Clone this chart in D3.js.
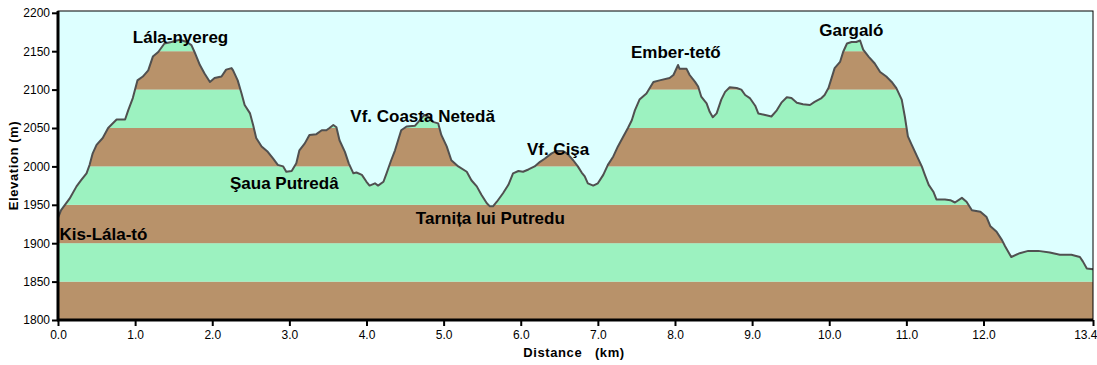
<!DOCTYPE html>
<html>
<head>
<meta charset="utf-8">
<title>Elevation profile</title>
<script src="https://cdn.jsdelivr.net/npm/d3@7"></script>
<style>
    body { margin: 0; background: #fff; }
    .tick text { font-family: Arial, "Liberation Sans", sans-serif; font-size: 12px; fill: #000; }
    .peak { font-family: Arial, "Liberation Sans", sans-serif; font-size: 17px; font-weight: bold; fill: #000; }
    .axis-title { font-family: Arial, "Liberation Sans", sans-serif; font-size: 13px; font-weight: bold; fill: #000; letter-spacing: 0.6px; }
</style>
</head>
<body>
<div id="chart"></div>
<script>

// distance along the route (km) and elevation (m)
var distKm = [0.00,0.04,0.15,0.24,0.30,0.37,0.41,0.45,0.50,0.58,0.65,0.76,0.87,0.91,0.97,1.03,1.10,1.17,1.23,1.30,
    1.38,1.47,1.58,1.67,1.73,1.77,1.84,1.90,1.97,2.03,2.12,2.18,2.25,2.27,2.33,2.38,2.42,2.49,2.53,2.57,
    2.64,2.72,2.79,2.85,2.92,2.96,3.03,3.09,3.13,3.20,3.26,3.35,3.42,3.48,3.52,3.57,3.61,3.65,3.72,3.77,
    3.83,3.87,3.94,4.00,4.04,4.11,4.15,4.22,4.26,4.32,4.37,4.41,4.45,4.52,4.63,4.69,4.75,4.80,4.86,4.93,
    4.97,5.04,5.10,5.19,5.30,5.36,5.43,5.49,5.56,5.60,5.64,5.69,5.77,5.84,5.90,5.97,6.03,6.10,6.18,6.25,
    6.31,6.40,6.46,6.55,6.61,6.68,6.74,6.79,6.83,6.87,6.94,7.00,7.07,7.13,7.20,7.26,7.33,7.39,7.44,7.48,
    7.54,7.63,7.72,7.80,7.93,7.98,8.04,8.06,8.15,8.19,8.26,8.30,8.34,8.41,8.45,8.49,8.54,8.60,8.65,8.71,
    8.80,8.86,8.91,8.97,9.04,9.08,9.17,9.25,9.32,9.38,9.45,9.51,9.58,9.66,9.75,9.81,9.90,9.94,9.99,10.03,
    10.07,10.14,10.18,10.23,10.29,10.35,10.40,10.44,10.51,10.59,10.66,10.74,10.81,10.87,10.94,10.98,11.02,11.07,11.13,11.20,
    11.24,11.29,11.35,11.39,11.50,11.57,11.63,11.72,11.78,11.85,11.96,12.04,12.09,12.17,12.24,12.28,12.36,12.47,12.58,12.71,
    12.86,12.99,13.14,13.25,13.29,13.34,13.42];

var elevM = [1933,1943,1958,1974,1982,1991,2002,2017,2028,2037,2050,2061,2061,2073,2089,2112,2117,2125,2143,2149,
    2160,2162,2165,2162,2158,2149,2132,2121,2110,2115,2117,2126,2128,2125,2112,2095,2080,2069,2054,2037,
    2026,2019,2010,2002,2000,1993,1994,2004,2021,2030,2041,2042,2047,2047,2050,2054,2051,2034,2019,2004,
    1991,1992,1989,1980,1975,1978,1975,1980,1991,2008,2021,2034,2047,2052,2053,2060,2067,2065,2058,2056,
    2041,2026,2008,2000,1993,1982,1974,1963,1952,1948,1948,1954,1965,1976,1991,1994,1993,1996,2000,2006,
    2010,2017,2020,2020,2016,2008,2000,1992,1987,1978,1975,1978,1989,2002,2013,2026,2039,2050,2060,2073,
    2087,2095,2110,2112,2115,2119,2132,2127,2127,2119,2110,2104,2091,2082,2071,2064,2069,2087,2097,2103,
    2102,2100,2093,2089,2079,2069,2067,2065,2073,2083,2090,2089,2083,2081,2080,2084,2089,2093,2102,2115,
    2128,2136,2149,2160,2162,2162,2164,2152,2143,2134,2123,2117,2110,2102,2087,2065,2039,2028,2015,2000,
    1989,1976,1967,1957,1957,1956,1953,1959,1954,1943,1941,1934,1922,1915,1904,1896,1882,1887,1890,1890,
    1888,1885,1885,1882,1876,1867,1866];

// place names and where they sit on the profile (km, m at baseline)
var placeNames = ["Lála-nyereg", "Kis-Lála-tó", "Şaua Putredâ", "Vf. Coasta Netedă", "Vf. Cişa",
    "Tarnița lui Putredu", "Ember-tető", "Gargaló"];
var placeKm   = [0.97, 0.02, 2.23, 3.79, 6.08, 4.64, 7.43, 9.87];
var placeElev = [2161, 1904, 1970, 2058, 2015, 1925, 2141, 2170];

var yTicks = [1800, 1850, 1900, 1950, 2000, 2050, 2100, 2150, 2200];
var xTicks = [0, 1, 2, 3, 4, 5, 6, 7, 8, 9, 10, 11, 12, 13.42];
var bandStep = 50;

var W = 1097, H = 365;
var plotLeft = 58, plotRight = 1093, plotTop = 11, plotBottom = 320;

var svg = d3.select("#chart").append("svg")
    .attr("width", W)
    .attr("height", H);

var x = d3.scaleLinear().domain([0, 13.42]).range([plotLeft, plotRight]);
var y = d3.scaleLinear().domain([1800, 2200]).range([plotBottom, 12.8]);

var profile = distKm.map(function(d, i) { return [d, elevM[i]]; });

// sky
svg.append("rect")
    .attr("x", plotLeft).attr("y", plotTop)
    .attr("width", plotRight - plotLeft).attr("height", plotBottom - plotTop)
    .attr("fill", "#DDFFFF");

var area = d3.area()
    .x(function(d) { return x(d[0]); })
    .y0(plotBottom)
    .y1(function(d) { return y(d[1]); });

svg.append("clipPath").attr("id", "ground")
  .append("path")
    .attr("d", area(profile));

// alternating 50 m bands, cut to the profile
var bands = d3.range(1800, 2200, bandStep);
svg.append("g")
    .attr("clip-path", "url(#ground)")
  .selectAll("rect")
    .data(bands)
  .enter().append("rect")
    .attr("x", plotLeft)
    .attr("width", plotRight - plotLeft)
    .attr("y", function(d) { return y(d + bandStep); })
    .attr("height", function(d) { return y(d) - y(d + bandStep); })
    .attr("fill", function(d, i) { return i % 2 === 0 ? "#B8926A" : "#9CF2C0"; });

var line = d3.line()
    .x(function(d) { return x(d[0]); })
    .y(function(d) { return y(d[1]); });

svg.append("path")
    .attr("d", line(profile))
    .attr("fill", "none")
    .attr("stroke", "#505050")
    .attr("stroke-width", 2)
    .attr("stroke-linejoin", "round");

// frame
svg.append("rect")
    .attr("x", plotLeft).attr("y", plotTop)
    .attr("width", plotRight - plotLeft).attr("height", plotBottom - plotTop)
    .attr("fill", "none")
    .attr("stroke", "#000")
    .attr("stroke-width", 1);

// axes
var yAxis = svg.append("g")
    .attr("transform", "translate(" + plotLeft + ",0)")
    .call(d3.axisLeft(y).tickValues(yTicks).tickSize(6).tickPadding(2).tickFormat(d3.format("d")));

var xAxis = svg.append("g")
    .attr("transform", "translate(0," + plotBottom + ")")
    .call(d3.axisBottom(x).tickValues(xTicks).tickSize(6).tickPadding(4).tickFormat(d3.format(".1f")));

yAxis.select(".domain").attr("stroke-width", 3).attr("d", "M0," + plotTop + "V" + (plotBottom + 1));
xAxis.select(".domain").attr("stroke-width", 3).attr("d", "M" + (plotLeft - 1) + ",0H" + plotRight);
svg.selectAll(".tick line").attr("stroke", "#000").attr("stroke-width", 2);

// last distance label sits flush with the right edge
xAxis.selectAll(".tick text")
    .filter(function(d) { return d === xTicks[xTicks.length - 1]; })
    .attr("text-anchor", "end")
    .attr("dx", 4);

svg.append("text")
    .attr("class", "axis-title")
    .attr("transform", "translate(18," + ((plotTop + plotBottom) / 2) + ") rotate(-90)")
    .attr("text-anchor", "middle")
    .text("Elevation (m)");

svg.append("text")
    .attr("class", "axis-title")
    .attr("x", 574).attr("y", 357)
    .attr("text-anchor", "middle")
    .attr("xml:space", "preserve")
    .style("white-space", "pre")
    .text("Distance   (km)");

// place labels
svg.append("g")
  .selectAll("text")
    .data(placeNames)
  .enter().append("text")
    .attr("class", "peak")
    .attr("x", function(d, i) { return x(placeKm[i]); })
    .attr("y", function(d, i) { return y(placeElev[i]); })
    .text(function(d) { return d; });

</script>
</body>
</html>
